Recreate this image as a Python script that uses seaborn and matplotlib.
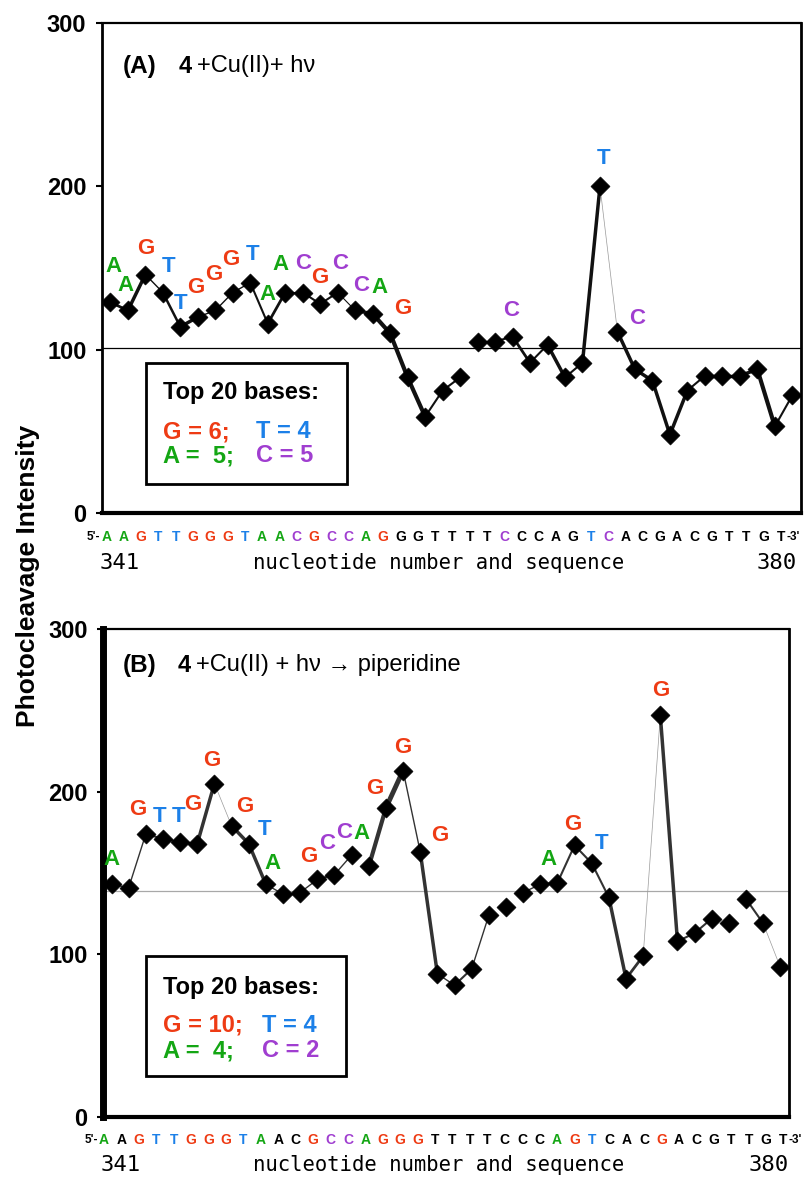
import numpy as np
import pandas as pd
import matplotlib.pyplot as plt
from matplotlib.patches import Rectangle
import seaborn as sns

positions = list(range(341, 381))
sequence = list("AAGTTGGGTAACGCCAGGGTTTTCCCAGTCACGACGTTGT")

intensity_a = [129, 124, 146, 135, 114, 120, 124, 135, 141, 116,
               135, 135, 128, 135, 124, 122, 110, 83, 59, 75,
               83, 105, 105, 108, 92, 103, 83, 92, 200, 111,
               88, 81, 48, 75, 84, 84, 84, 88, 53, 72]
intensity_b = [143, 141, 174, 171, 169, 168, 205, 179, 168, 143,
               137, 138, 146, 149, 161, 154, 190, 213, 163, 88,
               81, 91, 124, 129, 138, 143, 144, 167, 156, 135,
               85, 99, 247, 108, 113, 122, 119, 134, 119, 92]
ref_a = 101
ref_b = 139

# top 20 cleavage sites (nucleotide numbers)
top_a = [341, 342, 343, 344, 345, 346, 347, 348, 349, 350,
         351, 352, 353, 354, 355, 356, 357, 364, 369, 370]
top_b = [341, 343, 344, 345, 346, 347, 348, 349, 350, 353,
         354, 355, 356, 357, 358, 359, 367, 368, 369, 373]
counts_a = {"G": 6, "T": 4, "A": 5, "C": 5}
counts_b = {"G": 10, "T": 4, "A": 4, "C": 2}

titles = [("(A)", "4", "+Cu(II)+ h\u03bd"),
          ("(B)", "4", "+Cu(II) + h\u03bd \u2192 piperidine")]

# label nudges (x in bases, y in intensity units)
lab_dx_a = [0.2, -0.15, 0, 0.35, 0, -0.1, -0.1, -0.1, 0.15, 0,
            -0.25, 0, 0, 0.15, 0.35, 0.4, 0.7, -0.1, 0.2, 1.1]
lab_dy_a = [22, 15, 16, 16, 14, 18, 22, 20, 17, 18,
            17, 18, 16, 18, 15, 16, 15, 16, 17, 8]
lab_dx_b = [0, -0.45, -0.2, -0.1, -0.25, -0.15, 0.75, 0.9, 0.4, -0.5,
            -0.45, -0.45, -0.4, -0.65, 0, 1.15, -0.5, -0.1, 0.55, 0]
lab_dy_b = [15, 15, 14, 16, 24, 14, 12, 9, 13, 14,
            19, 14, 20, 12, 14, 10, 14, 13, 12, 15]

# segment widths between neighbouring points (0 = gap)
seg_lw_a = [2, 2.5, 1, 1.8, 2.5, 1, 1, 1, 1.5, 2,
            1.5, 1.5, 1.5, 0.8, 2.5, 3, 3, 3, 1.5, 1.5,
            0, 1.5, 1.5, 2, 1.5, 2.5, 1.5, 2.5, 0.5, 2.5,
            2.5, 2.5, 2.5, 1.5, 2.5, 2.5, 2.5, 3, 1.5]
seg_lw_b = [1, 1, 1.5, 1.5, 1.5, 2.5, 0.5, 2.5, 2.5, 1,
            0, 1, 1.5, 1, 0, 3, 3.5, 1, 2.5, 1,
            1.5, 1, 0, 0, 1, 1.5, 1.5, 1.5, 1.5, 2.5,
            2, 0.5, 2.5, 1.5, 1.5, 0, 0, 1.5, 0.5]

base_colors = {"G": "#EE3B14", "T": "#1C80E8", "A": "#14A614", "C": "#A03ED0"}

sns.set_style("white")
plt.rcParams["font.family"] = ["Liberation Sans", "DejaVu Sans"]
plt.rcParams["text.color"] = "black"
plt.rcParams["xtick.color"] = "black"
plt.rcParams["ytick.color"] = "black"
plt.rcParams["axes.labelcolor"] = "black"

fig = plt.figure(figsize=(8.12, 11.77), dpi=100)
ax_a = fig.add_axes([0.1252, 0.5641, 0.8613, 0.4164])
ax_b = fig.add_axes([0.1268, 0.0510, 0.8448, 0.4146])


def draw_panel(ax, vals, ref, ref_color, line_color, seg_lw, top, dx, dy,
               counts, title, left_lw, seq_x, box, box_rows):
    df = pd.DataFrame({"pos": positions, "base": sequence, "value": vals})
    df["x"] = df["pos"] - positions[0]

    ax.axhline(ref, color=ref_color, lw=0.9, zorder=1)

    for i, lw in enumerate(seg_lw):
        if lw == 0:
            continue
        c = "#9a9a9a" if lw <= 0.6 else line_color
        seg = df.iloc[i:i + 2]
        sns.lineplot(data=seg, x="x", y="value", ax=ax, color=c, lw=lw,
                     legend=False, zorder=2)

    sns.scatterplot(data=df, x="x", y="value", ax=ax, marker="D", s=95,
                    color="black", edgecolor="black", linewidth=0.4,
                    legend=False, zorder=4)

    # base letters above the top 20 sites
    for k, p in enumerate(top):
        row = df[df["pos"] == p].iloc[0]
        ax.text(row["x"] + dx[k], row["value"] + dy[k], row["base"],
                color=base_colors[row["base"]], fontsize=16, fontweight="bold",
                ha="center", va="center", zorder=5)

    ax.set_xlim(-0.5, len(positions) - 0.5)
    ax.set_ylim(0, 300)
    ax.set_xlabel("")
    ax.set_ylabel("")
    ax.set_xticks([])
    ax.set_xticks(np.arange(0.5, len(positions) - 1, 1), minor=True)
    ax.tick_params(axis="x", which="minor", direction="out", length=4,
                   width=1.5, color="black")
    ax.set_yticks([0, 100, 200, 300])
    ax.set_yticklabels(["0", "100", "200", "300"], fontsize=17,
                       fontweight="bold", color="black")
    ax.tick_params(axis="y", direction="out", length=4, width=1.5, pad=7,
                   left=True, color="black")

    for side in ["top", "right", "bottom", "left"]:
        ax.spines[side].set_visible(True)
        ax.spines[side].set_color("black")
    ax.spines["left"].set_linewidth(left_lw)
    ax.spines["bottom"].set_linewidth(3)
    ax.spines["right"].set_linewidth(2)
    ax.spines["top"].set_linewidth(1.6)

    # title
    tx, ty = title[0]
    ax.text(tx, ty, title[1][0], transform=ax.transAxes, fontsize=17.5,
            fontweight="bold", va="center")
    ax.text(tx + 0.080, ty, title[1][1], transform=ax.transAxes, fontsize=17,
            fontweight="bold", va="center")
    ax.text(tx + 0.106, ty, title[1][2], transform=ax.transAxes, fontsize=17,
            va="center")

    # sequence row under the axis
    xs = np.linspace(seq_x[0], seq_x[1], len(sequence))
    ys = seq_x[2]
    for p, b, x in zip(positions, sequence, xs):
        c = base_colors[b] if p in top else "black"
        ax.text(x, ys, b, transform=ax.transAxes, color=c, fontsize=10,
                fontweight="bold", ha="center", va="center")
    ax.text(xs[0] - 0.009, ys, "5'-", transform=ax.transAxes, fontsize=8.5,
            fontweight="bold", ha="right", va="center")
    ax.text(xs[-1] + 0.008, ys, "-3'", transform=ax.transAxes, fontsize=8.5,
            fontweight="bold", ha="left", va="center")

    ny = seq_x[3]
    ax.text(seq_x[4], ny, str(positions[0]), transform=ax.transAxes,
            family="DejaVu Sans Mono", fontsize=16, ha="left", va="center")
    ax.text(seq_x[5], ny, str(positions[-1]), transform=ax.transAxes,
            family="DejaVu Sans Mono", fontsize=16, ha="right", va="center")
    ax.text(seq_x[6], ny, "nucleotide number and sequence",
            transform=ax.transAxes, family="DejaVu Sans Mono", fontsize=14.8,
            ha="center", va="center")

    # "Top 20 bases" box
    bx0, by0, bx1, by1 = box
    ax.add_patch(Rectangle((bx0, by0), bx1 - bx0, by1 - by0,
                           transform=ax.transAxes, fill=True, facecolor="white",
                           edgecolor="black", lw=2, zorder=6))
    lx, cx2, y1, y2, y3 = box_rows
    ax.text(lx, y1, "Top 20 bases:", transform=ax.transAxes, fontsize=17,
            fontweight="bold", va="center", zorder=7)
    ax.text(lx, y2, f"G = {counts['G']};", transform=ax.transAxes,
            fontsize=17, fontweight="bold", va="center",
            color=base_colors["G"], zorder=7)
    ax.text(cx2, y2, f"T = {counts['T']}", transform=ax.transAxes,
            fontsize=17, fontweight="bold", va="center",
            color=base_colors["T"], zorder=7)
    ax.text(lx, y3, f"A =  {counts['A']};", transform=ax.transAxes,
            fontsize=17, fontweight="bold", va="center",
            color=base_colors["A"], zorder=7)
    ax.text(cx2, y3, f"C = {counts['C']}", transform=ax.transAxes,
            fontsize=17, fontweight="bold", va="center",
            color=base_colors["C"], zorder=7)


draw_panel(ax_a, intensity_a, ref_a, "black", "#111111", seg_lw_a, top_a,
           lab_dx_a, lab_dy_a, counts_a, ((0.030, 0.912), titles[0]), 2,
           (0.007, 0.971, -0.049, -0.102, -0.003, 0.994, 0.482),
           (0.0634, 0.0592, 0.3508, 0.3067),
           (0.088, 0.221, 0.245, 0.166, 0.117))
draw_panel(ax_b, intensity_b, ref_b, "#a8a8a8", "#333333", seg_lw_b, top_b,
           lab_dx_b, lab_dy_b, counts_b, ((0.029, 0.926), titles[1]), 5,
           (0.0015, 0.992, -0.047, -0.098, -0.004, 1.0, 0.490),
           (0.0625, 0.084, 0.354, 0.330),
           (0.088, 0.232, 0.266, 0.188, 0.136))

fig.text(0.034, 0.511, "Photocleavage Intensity", rotation=90, fontsize=19,
         fontweight="bold", ha="center", va="center")

fig.savefig("out.png", dpi=100)
